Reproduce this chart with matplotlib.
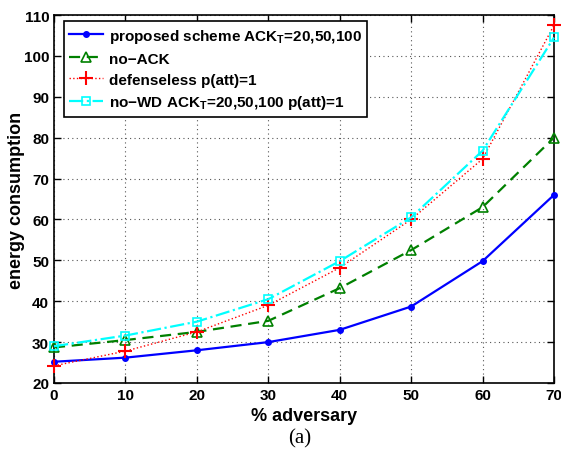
import matplotlib
matplotlib.use("Agg")
import matplotlib.pyplot as plt

x = [0, 10, 20, 30, 40, 50, 60, 70]
proposed = [25.2, 26.2, 28.0, 30.0, 33.0, 38.7, 49.8, 66.0]
no_ack = [28.7, 30.5, 32.5, 35.2, 43.2, 52.5, 63.0, 80.0]
defenseless = [24.2, 27.8, 32.5, 39.0, 48.2, 60.0, 74.8, 107.5]
no_wd = [29.0, 31.6, 35.0, 40.5, 49.8, 60.5, 76.8, 104.5]

labels = ["proposed scheme ACK$_\\mathbf{T}$=20,50,100", "no\u2212ACK",
          "defenseless p(att)=1", "no\u2212WD ACK$_\\mathbf{T}$=20,50,100 p(att)=1"]
xticks = [0, 10, 20, 30, 40, 50, 60, 70]
yticks = [20, 30, 40, 50, 60, 70, 80, 90, 100, 110]

plt.rcParams['font.family'] = ['Liberation Sans', 'DejaVu Sans']
plt.rcParams['font.weight'] = 'bold'
plt.rcParams['mathtext.fontset'] = 'custom'
plt.rcParams['mathtext.rm'] = 'Liberation Sans:bold'
plt.rcParams['mathtext.bf'] = 'Liberation Sans:bold'

fig = plt.figure(figsize=(5.61, 4.6), dpi=100)
ax = fig.add_axes([54/561, 76/460, 500/561, 368/460])

ax.plot(x, proposed, '-', color='#0000ff', lw=1.6, marker='o', ms=4, label=labels[0], clip_on=False, zorder=5)
ax.plot(x, no_ack, '--', color='#008000', lw=1.6, marker='^', ms=7, mfc='none', mew=1.2, label=labels[1], dashes=(5, 3), clip_on=False, zorder=5)
ax.plot(x, defenseless, ':', color='#ff0000', lw=1.0, marker='+', ms=10, mew=1.5, label=labels[2], clip_on=False, zorder=5)
ax.plot(x, no_wd, '-.', color='#00ffff', lw=1.6, marker='s', ms=6, mfc='none', mew=1.2, label=labels[3], clip_on=False, zorder=5)

ax.set_xlim(0, 70)
ax.set_ylim(20, 110)
ax.set_xticks(xticks)
ax.set_yticks(yticks)
ax.tick_params(direction='in', top=True, right=True, labelsize=11, width=1, length=5)
for lab in ax.get_xticklabels() + ax.get_yticklabels():
    lab.set_fontweight('bold')
ax.grid(True, linestyle=(0, (1, 3)), color='#555555', lw=0.8)
for s in ax.spines.values():
    s.set_linewidth(1.2)

ax.set_xlabel('% adversary', fontsize=13, fontweight='bold', labelpad=4)
ax.set_ylabel('energy consumption', fontsize=13, fontweight='bold', labelpad=-1)

leg = ax.legend(loc='upper left', fontsize=11, frameon=True, fancybox=False,
                edgecolor='black', framealpha=1, handlelength=2.2,
                borderaxespad=0.3, labelspacing=0.45, handletextpad=0.4,
                borderpad=0.35, bbox_to_anchor=(0.01, 0.995))
leg.set_zorder(10)
leg.get_frame().set_linewidth(1.2)
for t in leg.get_texts():
    t.set_fontweight('bold')

fig.text(0.535, 0.045, '(a)', family='Liberation Serif', fontsize=15, fontweight='normal', ha='center', va='center')

fig.savefig('out.png', dpi=100)
